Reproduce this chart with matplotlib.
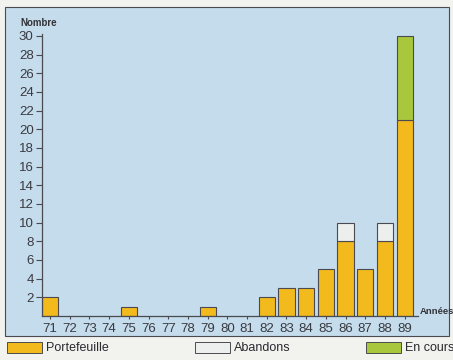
import numpy as np
import matplotlib.pyplot as plt
from matplotlib.patches import Rectangle

# Nombre de dossiers par année
annees = list(range(71, 90))
portefeuille = [2, 0, 0, 0, 1, 0, 0, 0, 1, 0, 0, 2, 3, 3, 5, 8, 5, 8, 21]
abandons = [0, 0, 0, 0, 0, 0, 0, 0, 0, 0, 0, 0, 0, 0, 0, 2, 0, 2, 0]
en_cours = [0, 0, 0, 0, 0, 0, 0, 0, 0, 0, 0, 0, 0, 0, 0, 0, 0, 0, 9]

c_jaune = '#f3ba1e'
c_blanc = '#ecefee'
c_vert = '#a9c73c'
c_fond = '#c4dcec'
c_trait = '#4a4a50'
plt.rcParams['font.family'] = ['Liberation Sans', 'DejaVu Sans']

fig = plt.figure(figsize=(4.53, 3.60), dpi=100)
fig.patch.set_facecolor('#f2f2ef')

# panneau bleu
fig.patches.append(Rectangle((5 / 453, 1 - 336 / 360), 444 / 453, 329 / 360,
                             transform=fig.transFigure, facecolor=c_fond,
                             edgecolor=c_trait, lw=0.8, zorder=0))

ax = fig.add_axes([42 / 453, 44 / 360, 376 / 453, 282 / 360])
ax.set_zorder(3)
ax.set_facecolor('none')

x = np.array(annees)
p = np.array(portefeuille)
a = np.array(abandons)
e = np.array(en_cours)
kw = dict(width=0.82, edgecolor=c_trait, linewidth=0.8)
ax.bar(x[p > 0], p[p > 0], color=c_jaune, **kw)
ax.bar(x[a > 0], a[a > 0], bottom=p[a > 0], color=c_blanc, **kw)
ax.bar(x[e > 0], e[e > 0], bottom=p[e > 0], color=c_vert, **kw)

ax.set_xlim(70.59, 89.68)
ax.set_ylim(0, 30.2)
ax.set_xticks(annees)
ax.set_xticklabels([str(v) for v in annees])
ax.set_yticks(range(2, 31, 2))
for s in ['top', 'right']:
    ax.spines[s].set_visible(False)
for s in ['left', 'bottom']:
    ax.spines[s].set_color(c_trait)
    ax.spines[s].set_linewidth(0.9)
ax.tick_params(axis='y', length=4, width=0.8, color=c_trait, labelsize=9.5,
               labelcolor='#3a3a40', pad=2)
ax.tick_params(axis='x', length=2, width=0.8, color=c_trait, labelsize=9.5,
               labelcolor='#3a3a40', pad=3)

fig.text(20 / 453, 1 - 23 / 360, 'Nombre', fontsize=7, fontweight='bold',
         color='#333338', va='center', ha='left')
fig.text(420 / 453, 1 - 312 / 360, 'Années', fontsize=6.8, fontweight='bold',
         color='#333338', va='center', ha='left')

# légende en bas
legende = [(7, c_jaune, 'Portefeuille'), (195, c_blanc, 'Abandons'),
           (366, c_vert, 'En cours')]
for x0, col, lab in legende:
    fig.patches.append(Rectangle((x0 / 453, 1 - 353 / 360), 35 / 453, 11 / 360,
                                 transform=fig.transFigure, facecolor=col,
                                 edgecolor=c_trait, lw=0.7, zorder=4))
    fig.text((x0 + 39) / 453, 1 - 348 / 360, lab, fontsize=9,
             color='#2a2a30', va='center', ha='left')

fig.savefig('out.png', dpi=100, facecolor=fig.get_facecolor())
